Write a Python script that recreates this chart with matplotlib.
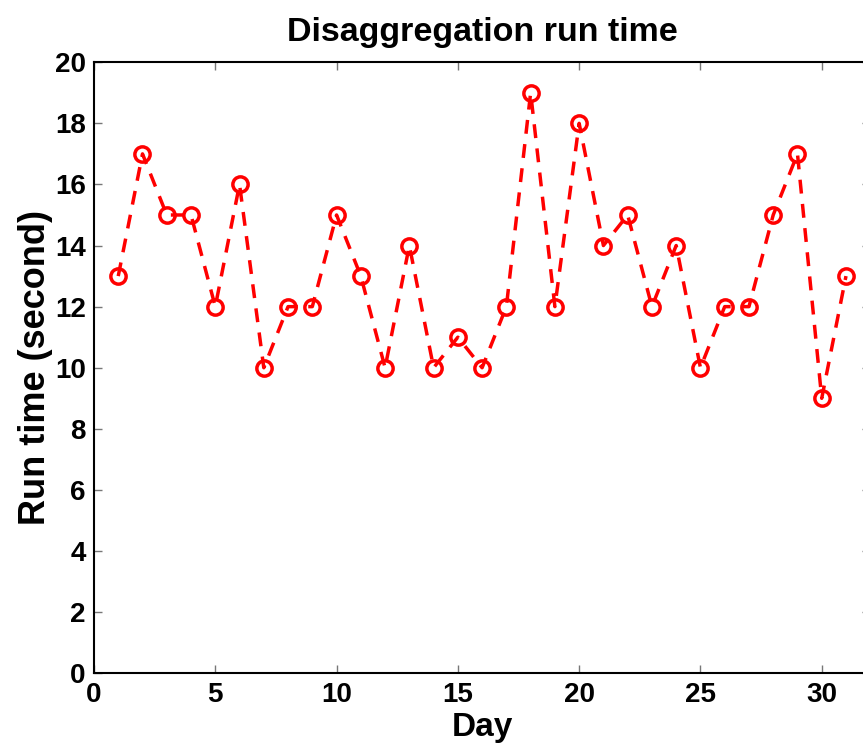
import matplotlib
matplotlib.use("Agg")
import matplotlib.pyplot as plt

days = list(range(1, 32))
run_time = [13, 17, 15, 15, 12, 16, 10, 12, 12, 15, 13, 10, 14, 10, 11, 10,
            12, 19, 12, 18, 14, 15, 12, 14, 10, 12, 12, 15, 17, 9, 13]

plt.rcParams['font.family'] = ['Liberation Sans', 'DejaVu Sans']
plt.rcParams['font.weight'] = 'bold'

fig = plt.figure(figsize=(8.63, 7.47), dpi=100)
# axes runs just past the right edge, like the cropped original
ax = fig.add_axes([0.1089, 0.0987, 0.8995, 0.818])

ax.plot(days, run_time, color='red', linestyle='--', linewidth=2.5,
        marker='o', markersize=11, markerfacecolor='none',
        markeredgewidth=2.5, markeredgecolor='red', dashes=(4, 3))

ax.set_xlim(0, 32)
ax.set_ylim(0, 20)
ax.set_xticks([0, 5, 10, 15, 20, 25, 30])
ax.set_yticks(range(0, 21, 2))
ax.tick_params(direction='in', length=6, width=1, color='#777777',
               labelsize=20, top=True, right=True, pad=6)
for lab in ax.get_xticklabels() + ax.get_yticklabels():
    lab.set_fontweight('bold')
for s in ax.spines.values():
    s.set_linewidth(1.5)

ax.set_xlabel('Day', fontsize=24, fontweight='bold', labelpad=3)
ax.set_ylabel('Run time (second)', fontsize=26, fontweight='bold', labelpad=1)
ax.set_title('Disaggregation run time', fontsize=24.5, fontweight='bold', pad=15)

fig.savefig('out.png', dpi=100)
